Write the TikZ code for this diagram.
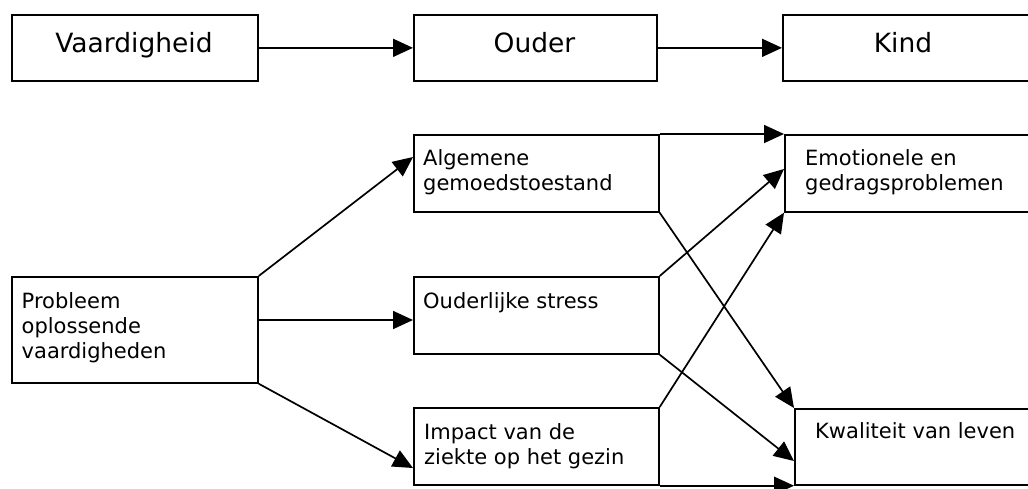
\documentclass[tikz,border=0pt]{standalone}
\usepackage{fontspec}
\setmainfont{DejaVu Sans}
\usetikzlibrary{arrows.meta,calc}
\begin{document}
\begin{tikzpicture}[x=1pt,y=-1pt,
  box/.style={draw,line width=1.7pt,rectangle,inner sep=0pt,anchor=north west},
  conn/.style={line width=1.7pt,-{Triangle[length=20pt,width=18pt]}},
  toptxt/.style={inner sep=0pt,anchor=base,font=\fontsize{26.5}{32}\selectfont},
  txt/.style={inner sep=0pt,anchor=base west,align=left,font=\fontsize{21}{25}\selectfont}]
\useasboundingbox (0,0) rectangle (1028,488);
% top row
\node[box,minimum width=246pt,minimum height=66pt] (vaard) at (11,14) {};
\node[box,minimum width=243pt,minimum height=66pt] (ouder) at (413,14) {};
\node[box,minimum width=270pt,minimum height=66pt] (kind) at (782,14) {};
\node[toptxt] (tv) at (134,52) {Vaardigheid};
\node[toptxt] (to) at (534.5,52) {Ouder};
\node[toptxt] (tk) at (903,52) {Kind};
\draw[conn] (vaard.east) -- (ouder.west);
\draw[conn] (ouder.east) -- (kind.west);
% lower part
\node[box,minimum width=246pt,minimum height=106pt] (prob) at (11,276) {};
\node[box,minimum width=245pt,minimum height=77pt] (alg) at (413,134) {};
\node[box,minimum width=245pt,minimum height=77pt] (stress) at (413,276) {};
\node[box,minimum width=245pt,minimum height=77pt] (impact) at (413,407) {};
\node[box,minimum width=270pt,minimum height=77pt] (emo) at (784,134) {};
\node[box,minimum width=260pt,minimum height=76pt] (kwal) at (794,408) {};
% base anchor of a multi-line node is the last line: offset by 25pt per extra line
\node[txt] (tp) at ($(prob.north west)+(10.5,82)$) {Probleem\\oplossende\\vaardigheden};
\node[txt] (ta) at ($(alg.north west)+(10,56)$) {Algemene\\gemoedstoestand};
\node[txt] (ts) at ($(stress.north west)+(10,32)$) {Ouderlijke stress};
\node[txt] (ti) at ($(impact.north west)+(11,57)$) {Impact van de\\ziekte op het gezin};
\node[txt] (te) at ($(emo.north west)+(21,56.5)$) {Emotionele en\\gedragsproblemen};
\node[txt] (tq) at ($(kwal.north west)+(21,30.5)$) {Kwaliteit van leven};
% connectors
\draw[conn] (prob.north east) -- ($(alg.north west)+(0,23)$);
\draw[conn] ($(prob.north east)+(0,44)$) -- ($(stress.north west)+(0,44)$);
\draw[conn] (prob.south east) -- ($(impact.north west)+(0,61)$);
\draw[conn] (alg.north east) -- (emo.north west);
\draw[conn] (alg.south east) -- (kwal.north west);
\draw[conn] (stress.north east) -- ($(emo.north west)+(0,35)$);
\draw[conn] (stress.south east) -- ($(kwal.north west)+(0,53)$);
\draw[conn] (impact.north east) -- (emo.south west);
\draw[conn] (impact.south east) -- (kwal.south west);
\end{tikzpicture}
\end{document}
